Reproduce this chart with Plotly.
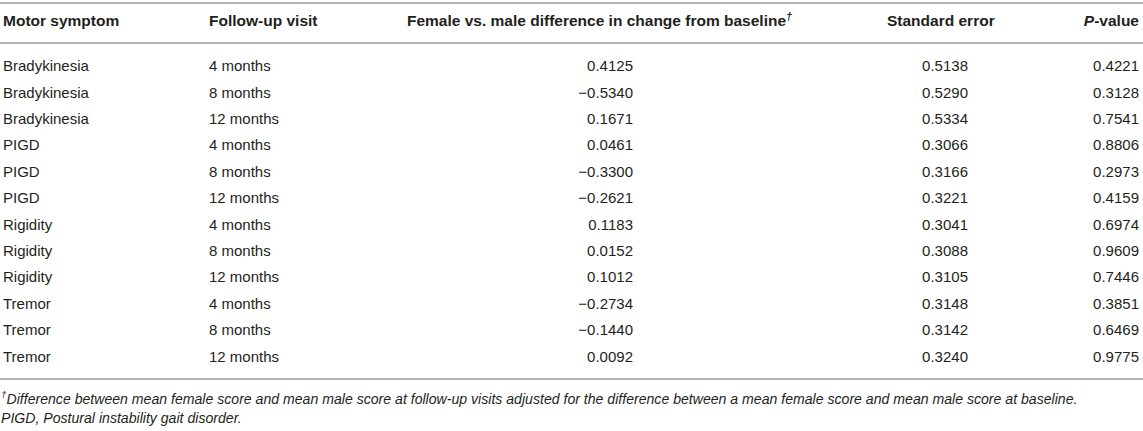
import plotly.graph_objects as go

# ---- data ----
symptoms = ["Bradykinesia", "Bradykinesia", "Bradykinesia",
            "PIGD", "PIGD", "PIGD",
            "Rigidity", "Rigidity", "Rigidity",
            "Tremor", "Tremor", "Tremor"]
visits = ["4 months", "8 months", "12 months"] * 4
diff = [0.4125, -0.5340, 0.1671, 0.0461, -0.3300, -0.2621,
        0.1183, 0.0152, 0.1012, -0.2734, -0.1440, 0.0092]
std_err = [0.5138, 0.5290, 0.5334, 0.3066, 0.3166, 0.3221,
           0.3041, 0.3088, 0.3105, 0.3148, 0.3142, 0.3240]
p_value = [0.4221, 0.3128, 0.7541, 0.8806, 0.2973, 0.4159,
           0.6974, 0.9609, 0.7446, 0.3851, 0.6469, 0.9775]
headers = ["Motor symptom", "Follow-up visit",
           "Female vs. male difference in change from baseline<sup><i>†</i></sup>",
           "Standard error", "<i>P</i>-value"]
footnotes = ["<sup><i>†</i></sup><i>Difference between mean female score and mean male score at follow-up visits "
             "adjusted for the difference between a mean female score and mean male score at baseline.</i>",
             "<i>PIGD, Postural instability gait disorder.</i>"]


def fmt(v):
    s = f"{abs(v):.4f}"
    return ("\u2212" + s) if v < 0 else s


W, H = 1143, 431
FONT = "Liberation Sans, Arial, Helvetica, sans-serif"
TXT = "#231f20"
RULE = "#b3b3b3"

row_y0 = 67.5
row_dy = 26.4
rows_y = [row_y0 + i * row_dy for i in range(len(symptoms))]
header_y = 22.5

fig = go.Figure()

body_font = dict(family=FONT, size=15, color=TXT)


def add_col(x, texts, ys, pos, font):
    fig.add_trace(go.Scatter(
        x=[x] * len(texts), y=ys, text=texts, mode="text",
        textposition=pos, textfont=font, hoverinfo="skip",
        showlegend=False))


add_col(3, symptoms, rows_y, "middle right", body_font)
add_col(209, visits, rows_y, "middle right", body_font)
add_col(633, [fmt(v) for v in diff], rows_y, "middle left", body_font)
add_col(968, [fmt(v) for v in std_err], rows_y, "middle left", body_font)
add_col(1139, [fmt(v) for v in p_value], rows_y, "middle left", body_font)

head_font = dict(family=FONT, size=15.5, color=TXT, weight="bold")
add_col(3, [headers[0]], [header_y], "middle right", head_font)
add_col(209, [headers[1]], [header_y], "middle right", head_font)
add_col(407, [headers[2]], [header_y], "middle right", head_font)
add_col(887, [headers[3]], [header_y], "middle right", head_font)
add_col(1139, [headers[4]], [header_y], "middle left", head_font)

foot_font = dict(family=FONT, size=14.1, color=TXT)
add_col(1, footnotes, [400, 419], "middle right", foot_font)

for yv in [3, 43, 379]:
    fig.add_shape(type="line", x0=0, x1=W, y0=yv, y1=yv, xref="x", yref="y",
                  line=dict(color=RULE, width=2))

fig.update_layout(
    width=W, height=H,
    margin=dict(l=0, r=0, t=0, b=0),
    paper_bgcolor="white", plot_bgcolor="white",
    xaxis=dict(range=[0, W], visible=False, fixedrange=True),
    yaxis=dict(range=[H, 0], visible=False, fixedrange=True),
)

fig.write_html("out.html",
               config={"displayModeBar": False, "staticPlot": True},
               post_script="document.body.style.margin='0px';document.body.style.overflow='hidden';")
